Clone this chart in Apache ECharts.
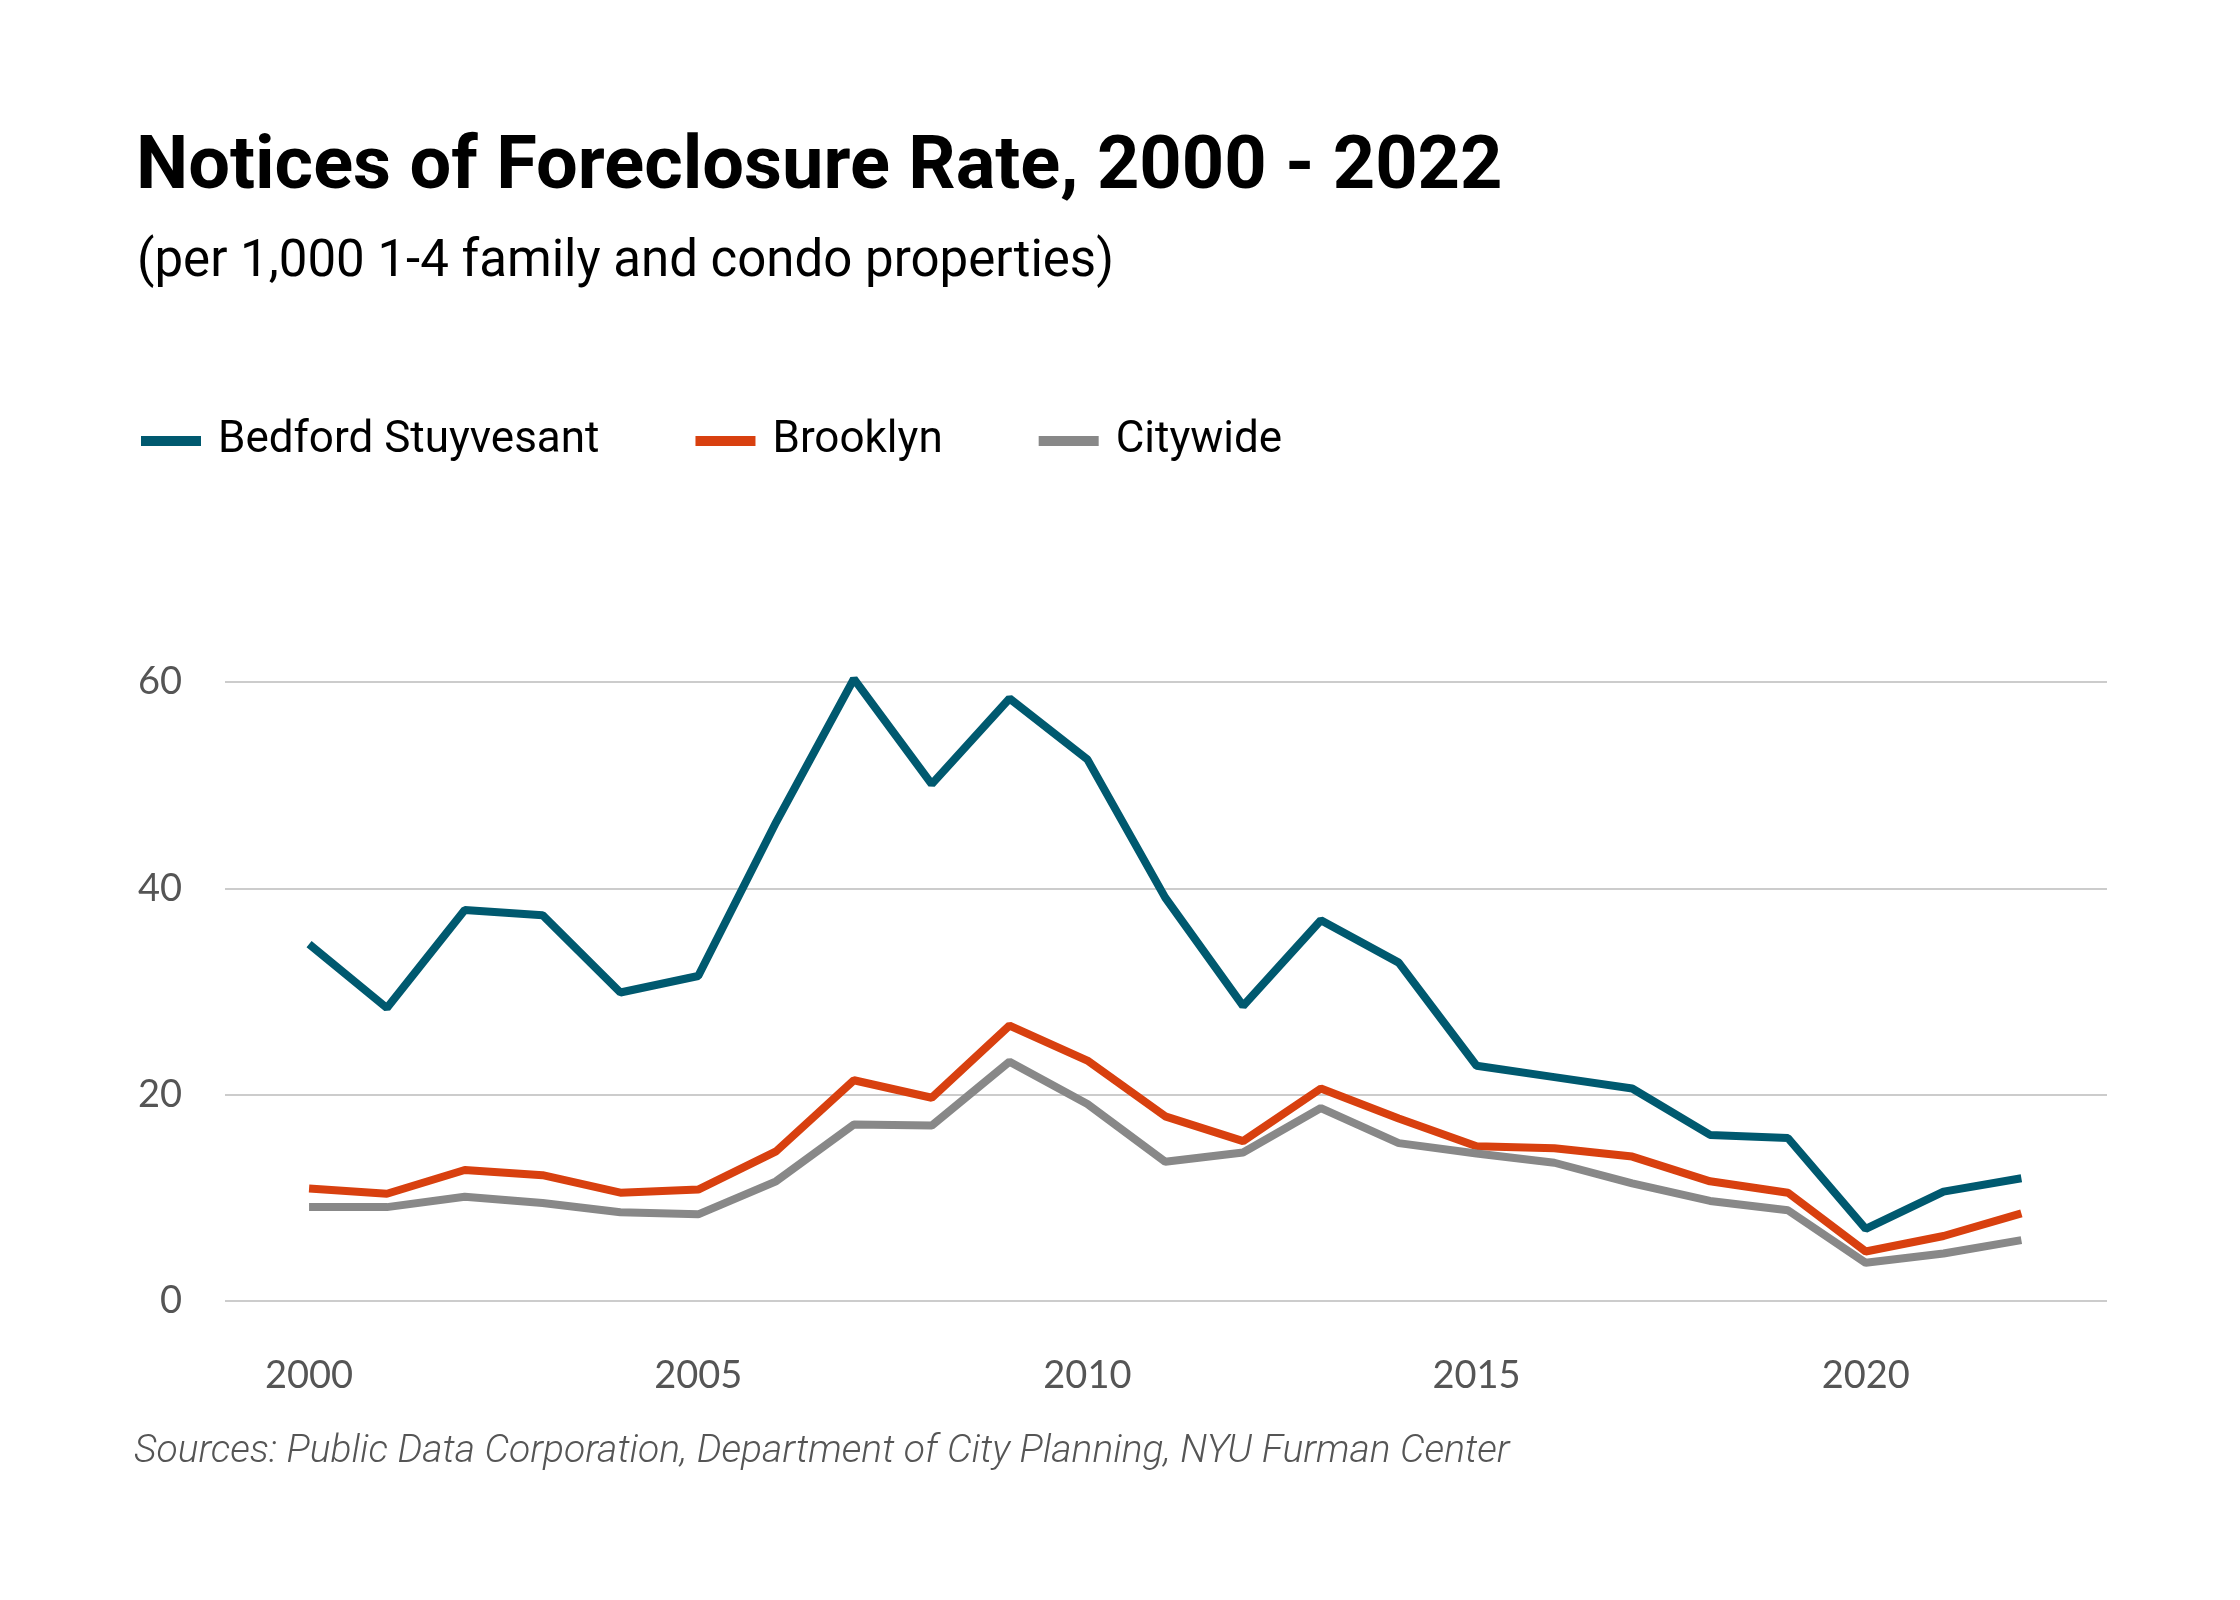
<!DOCTYPE html>
<html>
<head>
<meta charset="utf-8">
<script src="https://cdn.jsdelivr.net/npm/echarts@6/dist/echarts.min.js"></script>
<style>
html,body{margin:0;padding:0;background:#fff;}
#chart{width:2240px;height:1600px;}
</style>
</head>
<body>
<div id="chart"></div>
<script>
const years = [2000,2001,2002,2003,2004,2005,2006,2007,2008,2009,2010,2011,2012,2013,2014,2015,2016,2017,2018,2019,2020,2021,2022];
const bedfordStuyvesant = [34.6,28.4,37.9,37.4,29.9,31.5,46.4,60.3,50.1,58.4,52.5,39.1,28.6,36.9,32.8,22.8,21.7,20.6,16.1,15.8,7.0,10.6,11.9];
const brooklyn = [10.9,10.4,12.7,12.2,10.5,10.8,14.5,21.4,19.7,26.7,23.3,17.9,15.5,20.6,17.7,15.0,14.8,14.0,11.6,10.5,4.8,6.3,8.5];
const citywide = [9.1,9.1,10.1,9.5,8.6,8.4,11.6,17.1,17.0,23.2,19.1,13.5,14.4,18.7,15.3,14.3,13.4,11.4,9.7,8.8,3.7,4.6,5.9];
const xTickLabels = [2000,2005,2010,2015,2020];
const yTickLabels = [0,20,40,60];
const seriesNames = ['Bedford Stuyvesant','Brooklyn','Citywide'];
const seriesColors = ['#00596f','#d8400f','#888888'];

const pairs = arr => years.map((y,i)=>[y,arr[i]]);
const seriesData = [bedfordStuyvesant, brooklyn, citywide];

const chart = echarts.init(document.getElementById('chart'));
chart.setOption({
  backgroundColor:'#ffffff',
  animation:false,
  title:[
    {text:'Notices of Foreclosure Rate, 2000 - 2022', left:131, top:127,
     textStyle:{fontFamily:'Roboto', fontWeight:'bold', fontSize:74, color:'#000'}},
    {text:'(per 1,000 1-4 family and condo properties)', left:132, top:233,
     textStyle:{fontFamily:'Roboto', fontWeight:'normal', fontSize:51, color:'#000'}}
  ],
  legend:{
    left:136, top:414, itemWidth:60, itemHeight:10, itemGap:96, icon:'rect',
    textStyle:{fontFamily:'Roboto', fontSize:44, color:'#000', padding:[0,0,0,12]},
    data:seriesNames
  },
  grid:{left:225, right:133, top:682, bottom:299, containLabel:false},
  xAxis:{
    type:'value', min:1998.92, max:2023.1,
    axisLine:{show:false}, axisTick:{show:false}, splitLine:{show:false},
    axisLabel:{customValues:xTickLabels, margin:56, fontFamily:'Lato', fontSize:38, color:'#555',
      formatter:v=>String(v)}
  },
  yAxis:{
    type:'value', min:0, max:60, interval:20,
    axisLine:{show:false}, axisTick:{show:false},
    splitLine:{lineStyle:{color:'#cccccc', width:2}},
    axisLabel:{margin:43, fontFamily:'Lato', fontSize:38, color:'#555',
      formatter:v=> yTickLabels.includes(v) ? String(v) : ''}
  },
  series: seriesNames.map((n,i)=>({
    name:n, type:'line', data:pairs(seriesData[i]), showSymbol:false, symbol:'none',
    clip:false, lineStyle:{color:seriesColors[i], width:8}, itemStyle:{color:seriesColors[i]}
  })),
  graphic:[
    {type:'text', left:134, top:1433,
     style:{text:'Sources: Public Data Corporation, Department of City Planning, NYU Furman Center',
       fontFamily:'Roboto', fontStyle:'italic', fontWeight:300, fontSize:39, fill:'#555'}}
  ]
});
</script>
</body>
</html>
